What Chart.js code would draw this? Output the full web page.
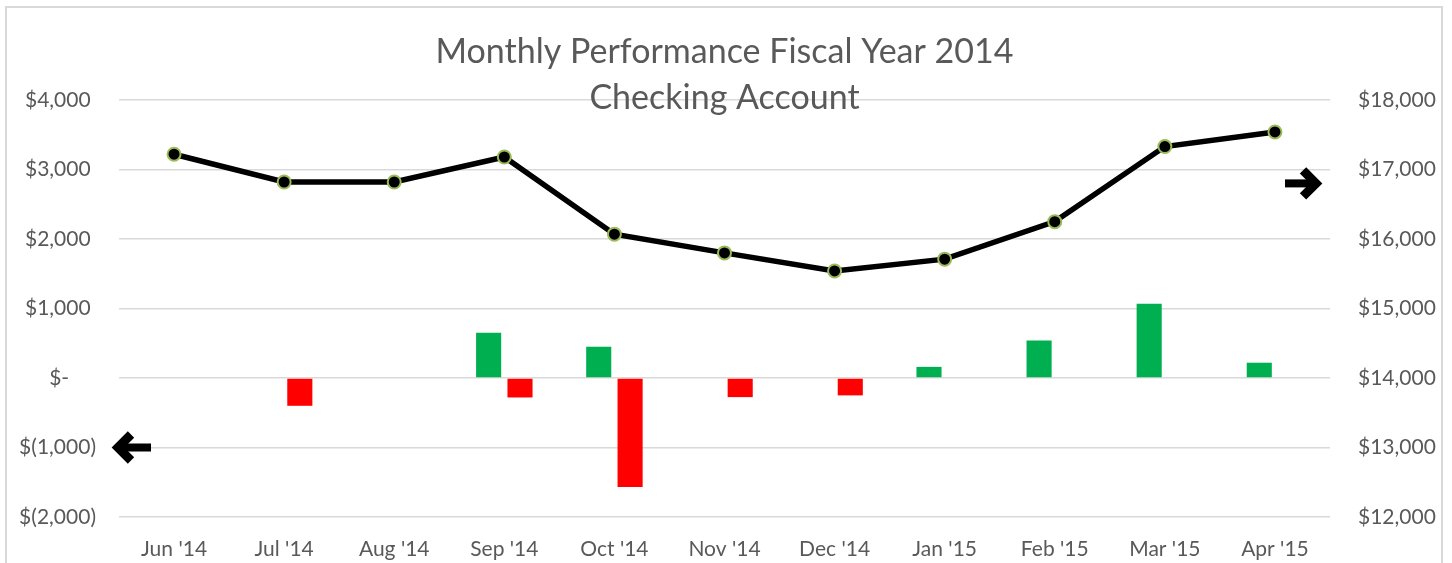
<!DOCTYPE html>
<html>
<head>
<meta charset="utf-8">
<title>Monthly Performance Fiscal Year 2014</title>
<script src="https://cdn.jsdelivr.net/npm/chart.js@4.4.1/dist/chart.umd.min.js"></script>
<style>
  html, body { margin: 0; padding: 0; background: #fff; overflow: hidden; }
  #wrap { position: relative; width: 1452px; height: 563px; }
  #frame {
    position: absolute; left: 5px; top: 6px; width: 1438px; height: 700px;
    border: 2px solid #d9d9d9; box-sizing: border-box;
  }
  #chart { position: absolute; left: 0; top: 0; }
</style>
</head>
<body>
<div id="wrap">
  <div id="frame"></div>
  <canvas id="chart" width="1452" height="563"></canvas>
</div>
<script>
const months = ["Jun '14", "Jul '14", "Aug '14", "Sep '14", "Oct '14", "Nov '14",
  "Dec '14", "Jan '15", "Feb '15", "Mar '15", "Apr '15"];
const gains = [null, null, null, 650, 450, null, null, 160, 540, 1070, 220];
const losses = [null, -400, null, -280, -1570, -275, -250, null, null, null, null];
const balance = [17220, 16820, 16820, 17180, 16070, 15800, 15540, 15710, 16250, 17330, 17540];
const titleLines = ['Monthly Performance Fiscal Year 2014', 'Checking Account'];

const FONT = 'Lato, "Open Sans", sans-serif';
const TEXT = '#595959';
const GRID = '#d9d9d9';

function leftLabel(value) {
  if (value === 0) return '$-     ';
  const s = Math.abs(value).toLocaleString('en-US');
  return value < 0 ? `$(${s})` : `$${s} `;
}

function drawArrow(ctx, tipX, cy, dir) {
  // heavy block arrow, dir = 1 points right, -1 points left
  const len = 37;
  const head = 13;
  ctx.save();
  ctx.strokeStyle = '#000';
  ctx.fillStyle = '#000';
  ctx.lineWidth = 9;
  ctx.lineJoin = 'miter';
  ctx.lineCap = 'butt';
  const tx = tipX - dir * 6;
  ctx.beginPath();
  ctx.moveTo(tx - dir * head, cy - head);
  ctx.lineTo(tx, cy);
  ctx.lineTo(tx - dir * head, cy + head);
  ctx.stroke();
  ctx.fillRect(Math.min(tipX - dir * len, tx - dir * 2), cy - 4, len - 6, 8);
  ctx.restore();
}

const overlay = {
  id: 'overlay',
  afterDraw(chart) {
    const { ctx, chartArea } = chart;
    ctx.save();
    ctx.fillStyle = TEXT;
    ctx.font = `34px ${FONT}`;
    ctx.textAlign = 'center';
    ctx.textBaseline = 'middle';
    const cx = (chartArea.left + chartArea.right) / 2;
    ctx.fillText(titleLines[0], cx, 52);
    ctx.fillText(titleLines[1], cx, 98);
    ctx.restore();

    const yl = chart.scales.y;
    const yr = chart.scales.y2;
    drawArrow(ctx, chartArea.left - 7, yl.getPixelForValue(-1000), -1);
    drawArrow(ctx, chartArea.right - 8, yr.getPixelForValue(16800), 1);
  },
};

new Chart(document.getElementById('chart').getContext('2d'), {
  type: 'bar',
  data: {
    labels: months,
    datasets: [
      {
        type: 'line',
        label: 'Balance',
        data: balance,
        yAxisID: 'y2',
        borderColor: '#000',
        borderWidth: 5.5,
        pointRadius: 6.5,
        pointBackgroundColor: '#000',
        pointBorderColor: '#9bbb59',
        pointBorderWidth: 2,
        tension: 0,
        order: 0,
      },
      {
        label: 'Gain',
        data: gains,
        yAxisID: 'y',
        backgroundColor: '#00b050',
        categoryPercentage: 0.57,
        barPercentage: 0.8,
        order: 1,
      },
      {
        label: 'Loss',
        data: losses,
        yAxisID: 'y',
        backgroundColor: '#ff0000',
        categoryPercentage: 0.57,
        barPercentage: 0.8,
        order: 2,
      },
    ],
  },
  options: {
    responsive: false,
    animation: false,
    layout: { padding: { top: 100, left: 0, right: 0, bottom: 0 } },
    plugins: {
      legend: { display: false },
      title: { display: false },
      tooltip: { enabled: false },
    },
    scales: {
      x: {
        grid: { display: false, drawTicks: false },
        border: { display: false },
        ticks: { color: TEXT, font: { family: FONT, size: 21 }, padding: 20, maxRotation: 0 },
        afterFit(scale) { scale.height = 46; },
      },
      y: {
        position: 'left',
        min: -2000,
        max: 4000,
        grid: { color: GRID, lineWidth: 1.5, drawTicks: false },
        border: { display: false },
        ticks: {
          stepSize: 1000,
          color: TEXT,
          font: { family: FONT, size: 21 },
          padding: 23,
          callback: (value) => leftLabel(value),
        },
        afterFit(scale) { scale.width = 119; },
      },
      y2: {
        position: 'right',
        min: 12000,
        max: 18000,
        grid: { display: false, drawTicks: false },
        border: { display: false },
        ticks: {
          stepSize: 1000,
          color: TEXT,
          font: { family: FONT, size: 21 },
          padding: 28,
          callback: (value) => '$' + value.toLocaleString('en-US'),
        },
        afterFit(scale) { scale.width = 122; },
      },
    },
  },
  plugins: [overlay],
});
</script>
</body>
</html>
